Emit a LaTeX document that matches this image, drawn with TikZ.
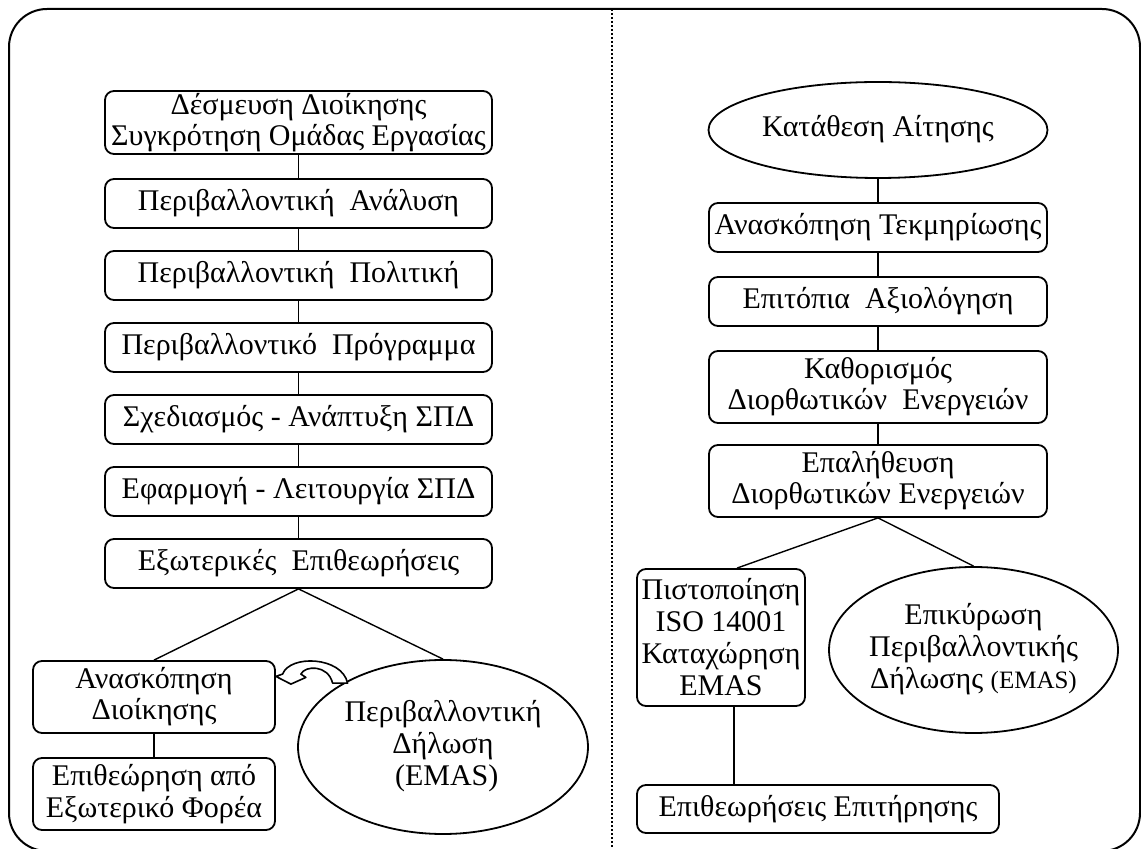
\documentclass[tikz,border=0pt]{standalone}
\usepackage{fontspec}
\setmainfont{Liberation Serif}
\usetikzlibrary{shapes.geometric,calc}
\newcommand{\ovaltext}[1]{\makebox[0pt]{\begin{tabular}{@{}c@{}}#1\end{tabular}}}

\begin{document}
\begin{tikzpicture}[x=0.5pt, y=-0.5pt, line join=round,
    phase/.style={rectangle,rounded corners=4.5pt,draw=black,line width=0.9pt,align=center,inner sep=0pt,
      minimum width=193.5pt,minimum height=24.5pt,font=\fontsize{15}{15.5}\selectfont},
    oval/.style={ellipse,draw=black,line width=0.9pt,inner sep=0pt,font=\fontsize{15}{16}\selectfont},
    link/.style={line width=0.7pt}]
  \clip (0,0) rectangle (1141,849);
  \draw[line width=1pt, rounded corners=19pt] (9,9) rectangle (1140,851);
  \draw[densely dotted, line width=1pt] (612,9) -- (612,849);
  % left column
  \node[phase,minimum height=31.5pt] at (298.5,122.5) (desm) {Δέσμευση Διοίκησης\\Συγκρότηση Ομάδας Εργασίας};
  \node[phase] at (298.5,203.5) (anal) {Περιβαλλοντική~ Ανάλυση};
  \node[phase] at (298.5,275.5) (polit) {Περιβαλλοντική~ Πολιτική};
  \node[phase] at (298.5,347.5) (progr) {Περιβαλλοντικό~ Πρόγραμμα};
  \node[phase] at (298.5,419.5) (sxed) {Σχεδιασμός - Ανάπτυξη ΣΠΔ};
  \node[phase] at (298.5,491.5) (efar) {Εφαρμογή - Λειτουργία ΣΠΔ};
  \node[phase] at (298.5,563.5) (exot) {Εξωτερικές~ Επιθεωρήσεις};
  \node[phase,minimum width=121pt,minimum height=36pt] at (154,697) (anask) {Ανασκόπηση\\Διοίκησης};
  \node[phase,minimum width=121pt,minimum height=36pt,font=\fontsize{15}{16}\selectfont] at (154,794) (epith) {Επιθεώρηση από\\Εξωτερικό Φορέα};
  \node[oval,minimum width=145pt,minimum height=87pt] at (443,747) (dilosi) {\ovaltext{Περιβαλλοντική\\Δήλωση\\~(EMAS)}};
  \draw[link] (desm) -- (anal);
  \draw[link] (anal) -- (polit);
  \draw[link] (polit) -- (progr);
  \draw[link] (progr) -- (sxed);
  \draw[link] (sxed) -- (efar);
  \draw[link] (efar) -- (exot);
  \draw[link] (exot.south) -- (anask.north);
  \draw[link] (exot.south) -- (dilosi.north);
  \draw[link] (anask) -- (epith);
  % curved arrow between the two results
  \begin{scope}[shift={([yshift=10.3pt]anask.east)}]
    \draw[line width=0.8pt, fill=white] (0,0) -- (15,7.7) -- (30,1) -- (25,-2.3)
      .. controls (29,-11) and (52,-12) .. (56.7,6.7) -- (71.7,6.7)
      .. controls (66,-20) and (14,-22) .. (6.7,-2.3) -- cycle;
  \end{scope}
  % right column
  \node[oval,minimum width=169.5pt,minimum height=48pt] at (878,130) (katath) {\ovaltext{Κατάθεση Αίτησης}};
  \node[phase,minimum width=169pt] at (878,227.5) (tekm) {Ανασκόπηση Τεκμηρίωσης};
  \node[phase,minimum width=169pt] at (878,301.5) (epit) {Επιτόπια~ Αξιολόγηση};
  \node[phase,minimum width=169pt,minimum height=36pt] at (878,387) (kath) {Καθορισμός\\Διορθωτικών~ Ενεργειών};
  \node[phase,minimum width=169pt,minimum height=36pt] at (878,481) (epal) {Επαλήθευση\\Διορθωτικών Ενεργειών};
  \node[phase,minimum width=84pt,minimum height=68.5pt,font=\fontsize{15}{16}\selectfont] at (721,637.5) (pistop) {Πιστοποίηση\\ISO 14001\\Καταχώρηση\\EMAS};
  \node[oval,minimum width=144.5pt,minimum height=83pt] at (973.5,650) (epik) {\ovaltext{Επικύρωση\\Περιβαλλοντικής\\Δήλωσης {\fontsize{12.5}{16}\selectfont(EMAS)}}};
  \node[phase,minimum width=181pt,minimum height=24pt] at (818,809) (epitir) {Επιθεωρήσεις Επιτήρησης};
  \draw[link] (katath) -- (tekm);
  \draw[link] (tekm) -- (epit);
  \draw[link] (epit) -- (kath);
  \draw[link] (kath) -- (epal);
  \draw[link] (epal.south) -- ([xshift=8pt]pistop.north);
  \draw[link] (epal.south) -- (epik.north);
  \draw[link] ([xshift=6.5pt]pistop.south) -- ([xshift=6.5pt]pistop.south |- epitir.north);
\end{tikzpicture}
\end{document}
